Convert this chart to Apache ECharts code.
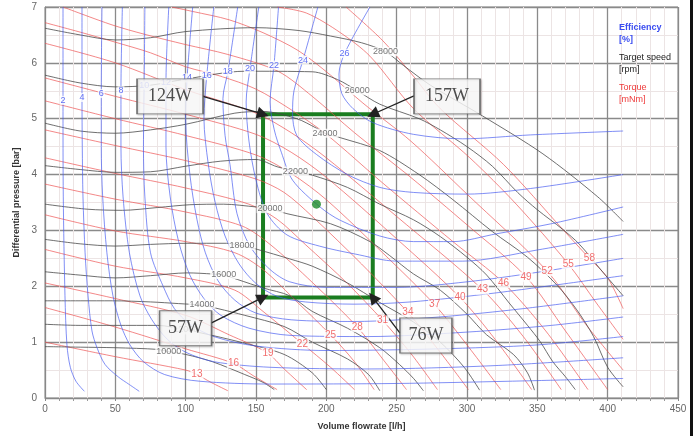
<!DOCTYPE html>
<html>
<head>
<meta charset="utf-8">
<script src="https://cdn.jsdelivr.net/npm/echarts@6/dist/echarts.min.js"></script>
<style>
html,body{margin:0;padding:0;background:#fff}
#chart{width:696px;height:436px}
</style>
</head>
<body>
<div id="chart"></div>
<script>
// Pump map: efficiency [%], target speed [rpm] and torque [mNm] iso-lines
// over volume flowrate [l/h] (x) and differential pressure [bar] (y).

const xTicks = [0, 450, 50];
const yTicks = [0, 7, 1];

// Efficiency iso-lines [%]
const effLevels = [2, 4, 6, 8, 10, 12, 14, 16, 18, 20, 22, 24, 26];
const effCurves = [
  [[12.8,7],[12.8,5.33],[13,3.6],[14.2,1.83],[15.6,0.95],[18,0.55],[22,0.3],[28,0.12]],
  [[26.3,7],[26.3,5.38],[26.5,4.5],[27,3.6],[28.5,2.6],[30.6,1.83],[33.4,1.2],[37,0.9],[42.7,0.6],[52,0.38],[60,0.24],[67,0.12]],
  [[40.5,7],[40,5.45],[40,4.5],[41,3.6],[44,2.6],[48.3,1.83],[54,1.3],[60.4,0.95],[70,0.65],[85,0.42],[110,0.3],[160,0.25],[250,0.26],[330,0.3],[411,0.35]],
  [[55,7],[54,5.5],[54,4.5],[55.5,3.6],[60,2.6],[67.5,1.83],[76,1.4],[87,1.05],[100,0.82],[120,0.65],[160,0.55],[230,0.52],[320,0.58],[411,0.72]],
  [[71,7],[70.5,5.6],[70,4.5],[71,3.6],[75,2.6],[84,2.0],[92,1.6],[103,1.32],[120,1.1],[150,0.93],[200,0.85],[280,0.88],[350,0.95],[411,1.1]],
  [[88,7],[86,5.65],[86,4.5],[89,3.6],[95,2.8],[103,2.2],[113,1.78],[125,1.48],[145,1.25],[175,1.12],[230,1.1],[300,1.18],[360,1.3],[411,1.45]],
  [[105,7],[101,5.73],[100,5.0],[103,4.0],[108,3.2],[114,2.6],[123,2.1],[135,1.75],[150,1.52],[175,1.4],[220,1.37],[280,1.45],[340,1.6],[411,1.83]],
  [[120,7],[115,5.77],[113,5.0],[116,4.2],[121,3.5],[128,2.9],[138,2.4],[150,2.05],[165,1.82],[185,1.72],[220,1.68],[260,1.72],[320,1.88],[411,2.19]],
  [[137,7],[130,5.84],[126.5,5.36],[128,4.7],[131.5,4.18],[136.5,3.3],[145.7,2.72],[160,2.3],[174,2.08],[200,1.98],[250,1.98],[300,2.08],[350,2.25],[411,2.5]],
  [[152,7],[145.7,5.89],[143,5.3],[145,4.6],[150,3.9],[158,3.3],[172,2.92],[195,2.72],[220,2.58],[250,2.45],[297,2.45],[350,2.65],[411,2.93]],
  [[166,7],[162.8,5.96],[160,5.3],[163,4.8],[168,4.4],[176,3.9],[195.5,3.42],[210,3.18],[238,2.9],[262,2.8],[290,2.8],[321,2.94],[360,3.12],[411,3.42]],
  [[194,7],[183.4,6.05],[177,5.5],[176,5.1],[179,4.7],[193,4.36],[215,4.0],[238,3.77],[262,3.68],[300,3.65],[345,3.75],[411,4.0]],
  [[231,7],[213,6.17],[209,5.8],[211,5.45],[219,5.18],[233,4.93],[262,4.72],[297,4.64],[345,4.71],[411,4.78]]
];
const effLabelPts = [[12.8,5.33],[26.3,5.38],[40,5.45],[54,5.5],[70.5,5.6],[86,5.65],[101,5.73],[115,5.77],[130,5.84],[145.7,5.89],[162.8,5.96],[183.4,6.05],[213,6.17]];

// Target speed iso-lines [rpm]
const speedLevels = [10000, 12000, 14000, 16000, 18000, 20000, 22000, 24000, 26000, 28000];
const speedCurves = [
  [[0,0.92],[25,0.91],[50,0.9],[80,0.87],[88,0.83],[100,0.78],[119,0.65],[142,0.42],[155,0.28],[163,0.15]],
  [[0,1.32],[25,1.3],[50,1.3],[80,1.3],[100,1.22],[119,1.12],[142,0.98],[170,0.78],[190,0.45],[200,0.15]],
  [[0,1.74],[25,1.74],[48,1.74],[75,1.72],[95,1.69],[112,1.66],[123,1.6],[142,1.48],[170,1.28],[190,1.0],[215,0.7],[230,0.42],[238,0.13]],
  [[0,2.26],[25,2.2],[50,2.15],[75,2.19],[101,2.24],[119,2.22],[127,2.2],[137,2.12],[155,1.97],[174,1.83],[190,1.55],[215,1.25],[238,0.9],[252,0.6],[262,0.35],[269,0.13]],
  [[0,2.84],[25,2.76],[50,2.72],[75,2.75],[101,2.77],[129,2.77],[141,2.72],[151,2.66],[174,2.49],[190,2.36],[215,2.06],[238,1.71],[262,1.36],[281,1.0],[298,0.55],[309,0.14]],
  [[0,3.47],[30,3.38],[55,3.36],[80,3.41],[103,3.46],[127,3.47],[150,3.42],[160,3.39],[172,3.3],[203,3.12],[231,2.8],[245,2.55],[262,2.22],[281,1.93],[300,1.5],[314,1.13],[333,0.78],[343,0.45],[348,0.14]],
  [[0,4.16],[25,4.09],[50,4.04],[75,4.05],[100,4.15],[125,4.24],[150,4.27],[165,4.14],[178,4.06],[190,3.99],[215,3.77],[238,3.47],[262,3.19],[281,2.89],[300,2.52],[314,2.2],[330,1.7],[343,1.3],[352,1.01],[361,0.65],[370,0.38],[377,0.15]],
  [[0,4.92],[25,4.78],[50,4.74],[75,4.8],[100,4.9],[135,5.1],[155,5.13],[179,5.0],[193,4.83],[199,4.74],[210,4.66],[238,4.43],[266,4.0],[290,3.55],[318,2.98],[343,2.52],[364,2.02],[378,1.58],[390,1.1],[400,0.55],[411,0.2]],
  [[0,5.78],[25,5.64],[50,5.57],[75,5.6],[100,5.71],[142,5.85],[190,5.84],[208,5.7],[222,5.5],[238,5.26],[266,5.0],[281,4.8],[300,4.5],[318,4.15],[336,3.68],[350,3.37],[368,3.02],[380,2.75],[397,2.24],[411,1.83]],
  [[0,6.62],[25,6.5],[50,6.41],[75,6.45],[100,6.56],[150,6.63],[180,6.58],[203,6.48],[225,6.36],[242,6.2],[255,5.95],[274,5.6],[311,5.05],[354,4.37],[393,3.6],[411,3.16]]
];
const speedLabelPts = [[88,0.83],[100,1.22],[111.6,1.68],[127,2.21],[140,2.73],[160,3.39],[178,4.06],[199,4.74],[222,5.5],[242,6.2]];

// Torque iso-lines [mNm]
const torqueLevels = [13, 16, 19, 22, 25, 28, 31, 34, 37, 40, 43, 46, 49, 52, 55, 58];
const torqueCurves = [
  [[0,1.0],[50,0.74],[100,0.5],[108,0.42],[118,0.28],[130,0.13]],
  [[0,1.62],[50,1.27],[100,0.88],[134,0.62],[148,0.4],[165,0.15]],
  [[0,2.06],[50,1.78],[100,1.48],[131,1.13],[158,0.81],[170,0.52],[186,0.15]],
  [[0,2.66],[50,2.36],[100,2.15],[135,1.93],[155,1.55],[183,0.97],[203,0.55],[220,0.15]],
  [[0,3.28],[50,2.99],[100,2.8],[135,2.6],[155,2.3],[180,1.7],[203,1.13],[220,0.65],[234,0.15]],
  [[0,3.83],[50,3.56],[100,3.33],[140,3.08],[160,2.75],[190,2.07],[222,1.27],[240,0.7],[257,0.15]],
  [[0,4.3],[50,4.02],[100,3.76],[145,3.47],[165,3.2],[185,2.75],[215,2.05],[240,1.39],[260,0.8],[279,0.15]],
  [[0,4.8],[50,4.52],[100,4.25],[150,3.92],[170,3.68],[190,3.25],[225,2.4],[258,1.53],[280,0.85],[301,0.15]],
  [[0,5.32],[50,5.0],[100,4.7],[150,4.35],[175,4.02],[200,3.55],[240,2.6],[277,1.67],[300,0.95],[324,0.15]],
  [[0,5.73],[50,5.4],[100,5.08],[150,4.72],[175,4.4],[200,3.95],[250,2.85],[295,1.8],[320,1.05],[346,0.15]],
  [[0,6.35],[50,6.0],[100,5.52],[150,5.1],[175,4.75],[200,4.3],[250,3.25],[311,1.94],[340,1.1],[367,0.15]],
  [[0,6.72],[25,6.55],[50,6.37],[75,6.18],[100,5.93],[125,5.76],[150,5.53],[175,5.16],[200,4.72],[240,3.85],[290,2.8],[326,2.06],[356,1.2],[386,0.15]],
  [[12.8,7],[47.6,6.68],[71,6.51],[99.5,6.33],[130,6.15],[165.6,5.85],[190,5.4],[220,4.75],[260,3.95],[300,3.1],[342,2.17],[370,1.2],[400,0.15]],
  [[90,7],[105,6.92],[131,6.77],[155,6.54],[180,6.22],[203,5.78],[226,5.28],[260,4.6],[300,3.65],[357,2.27],[385,1.3],[411,0.5]],
  [[165,7],[186,6.89],[210,6.54],[231,6.12],[262,5.18],[302,4.3],[335,3.47],[372,2.4],[392,1.7],[411,1.05]],
  [[214,7],[240,6.4],[260,5.82],[281,5.18],[326,4.18],[368,3.02],[387,2.5],[400,2.15],[411,1.6]]
];
const torqueLabelPts = [[108,0.42],[134,0.62],[158.5,0.81],[183,0.97],[203,1.13],[222,1.27],[240,1.39],[258,1.53],[277,1.67],[295,1.8],[311,1.94],[326,2.06],[342,2.17],[357,2.27],[372,2.4],[387,2.5]];

// Operating window and point
const windowFlow = [155, 233];
const windowPressure = [1.8, 5.08];
const operatingPoint = [193, 3.47];

// Power call-outs at the window corners
const powerLabels = ['124W', '157W', '57W', '76W'];
const powerBoxAt = [[88.9,5.40],[285.8,5.40],[99.9,1.25],[270.8,1.12]];
const powerArrowFrom = [[112.3,5.40],[262.3,5.41],[118,1.34],[252.4,1.16]];
const powerArrowTo = [[155,5.08],[233,5.08],[155,1.8],[233,1.8]];

const chart = echarts.init(document.getElementById('chart'), null, {renderer: 'canvas'});

const series = [];
function addCurves(curves, color, z) {
  curves.forEach(pts => series.push({
    type: 'line', data: pts, showSymbol: false, smooth: 0.3, silent: true, z: z,
    lineStyle: {color: color, width: 1}
  }));
}
addCurves(torqueCurves, 'rgba(238,80,80,0.68)', 2);
addCurves(speedCurves, 'rgba(70,70,70,0.78)', 3);
addCurves(effCurves, 'rgba(70,90,240,0.68)', 4);

function addLabels(levels, pts, color, size) {
  series.push({
    type: 'scatter', silent: true, z: 6, symbolSize: 1,
    itemStyle: {color: 'rgba(0,0,0,0)'},
    data: levels.map((v, i) => [pts[i][0], pts[i][1], String(v)]),
    label: {show: true, position: 'inside', formatter: p => p.value[2],
      color: color, fontSize: size, fontFamily: 'Liberation Sans, Arial, sans-serif',
      backgroundColor: '#fff', padding: [0, 1]}
  });
}
addLabels(effLevels, effLabelPts, '#3a4cf0', 9);
addLabels(speedLevels, speedLabelPts, '#555', 9);
addLabels(torqueLevels, torqueLabelPts, '#ee4a4a', 10);

// Operating point, window outline and arrows
series.push({
  type: 'scatter', z: 8, silent: true, symbolSize: 9,
  itemStyle: {color: '#1c8a2a'},
  data: [operatingPoint],
  markArea: {
    silent: true,
    itemStyle: {color: 'rgba(0,0,0,0)', borderColor: '#1a7d20', borderWidth: 4},
    data: [[{coord: [windowFlow[0], windowPressure[1]]}, {coord: [windowFlow[1], windowPressure[0]]}]]
  },
  markLine: {
    silent: true, animation: false,
    symbol: ['none', 'triangle'], symbolSize: 12,
    itemStyle: {color: '#111'},
    lineStyle: {color: '#222', width: 1.3, type: 'solid'},
    label: {show: false},
    data: powerArrowFrom.map((f, i) => [{coord: f}, {coord: powerArrowTo[i]}])
  }
});

// Call-out boxes
series.push({
  type: 'scatter', z: 10, silent: true, symbol: 'rect',
  data: powerLabels.map((t, i) => ({
    value: [powerBoxAt[i][0], powerBoxAt[i][1], t],
    symbolSize: t.length > 3 ? [66, 35] : [52, 35]
  })),
  itemStyle: {color: '#fff', borderColor: '#5a5a5a', borderWidth: 1.3,
    shadowColor: 'rgba(0,0,0,0.2)', shadowBlur: 2, shadowOffsetX: 1, shadowOffsetY: 1},
  label: {show: true, position: 'inside', formatter: p => p.value[2],
    color: '#222', fontSize: 18, fontFamily: 'Liberation Serif, DejaVu Serif, serif'}
});

chart.setOption({
  animation: false,
  backgroundColor: '#fff',
  grid: {left: 45, right: 18, top: 7, bottom: 32, show: true, borderColor: '#8a8a8a', borderWidth: 1},
  xAxis: {
    type: 'value', min: xTicks[0], max: xTicks[1], interval: xTicks[2],
    name: 'Volume flowrate [l/h]', nameLocation: 'middle', nameGap: 24,
    nameTextStyle: {fontSize: 9, fontWeight: 'bold', color: '#333', fontFamily: 'Liberation Sans, Arial, sans-serif'},
    axisLine: {show: true, lineStyle: {color: '#888'}},
    axisTick: {show: true, length: 3, lineStyle: {color: '#888'}},
    minorTick: {show: true, splitNumber: 5, length: 3, lineStyle: {color: '#999'}},
    axisLabel: {color: '#666', fontSize: 10, margin: 6, fontFamily: 'Liberation Sans, Arial, sans-serif'},
    splitLine: {show: true, lineStyle: {color: '#8a8a8a', width: 1.3}},
    minorSplitLine: {show: true, lineStyle: {color: '#ece4e4', width: 1}}
  },
  yAxis: {
    type: 'value', min: yTicks[0], max: yTicks[1], interval: yTicks[2],
    name: 'Differential pressure [bar]', nameLocation: 'middle', nameGap: 24, nameRotate: 90,
    nameTextStyle: {fontSize: 9, fontWeight: 'bold', color: '#333', fontFamily: 'Liberation Sans, Arial, sans-serif'},
    axisLine: {show: true, lineStyle: {color: '#888'}},
    axisTick: {show: false},
    minorTick: {show: false, splitNumber: 2},
    axisLabel: {color: '#666', fontSize: 10, margin: 8, fontFamily: 'Liberation Sans, Arial, sans-serif'},
    splitLine: {show: true, lineStyle: {color: '#8a8a8a', width: 1.3}},
    minorSplitLine: {show: true, lineStyle: {color: '#ece4e4', width: 1}}
  },
  graphic: [
    {type: 'text', left: 619, top: 22, z: 20, style: {text: 'Efficiency\n[%]', fill: '#3a4cf0', font: 'bold 9px Liberation Sans, Arial, sans-serif', lineHeight: 12}},
    {type: 'text', left: 619, top: 52, z: 20, style: {text: 'Target speed\n[rpm]', fill: '#222', font: '9px Liberation Sans, Arial, sans-serif', lineHeight: 12}},
    {type: 'text', left: 619, top: 82, z: 20, style: {text: 'Torque\n[mNm]', fill: '#ee3a3a', font: '9px Liberation Sans, Arial, sans-serif', lineHeight: 12}},
    {type: 'rect', left: 690, top: 0, z: 20, shape: {width: 3, height: 436}, style: {fill: '#111'}}
  ],
  series: series
});
</script>
</body>
</html>
